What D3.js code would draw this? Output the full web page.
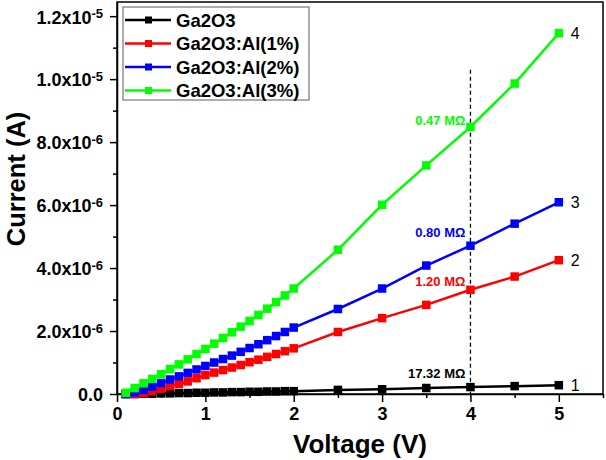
<!DOCTYPE html>
<meta charset="utf-8">
<head>
  <style>
    body { margin: 0; background: #fff; }
    svg { font-family: "Liberation Sans", Arial, sans-serif; }
    .axis path, .axis line { stroke: #000; stroke-width: 1.5; }
    .axis text { font-size: 18px; font-weight: bold; fill: #000; }
  </style>
</head>
<body>
  <script src="https://d3js.org/d3.v7.min.js"></script>
  <script>
    // voltage sweep (V)
    var voltage = [0.1, 0.2, 0.3, 0.4, 0.5, 0.6, 0.7, 0.8, 0.9, 1.0,
      1.1, 1.2, 1.3, 1.4, 1.5, 1.6, 1.7, 1.8, 1.9, 2.0,
      2.5, 3.0, 3.5, 4.0, 4.5, 5.0];

    // current in units of 1e-6 A
    var ga2o3 = [0.0, 0.0, 0.01, 0.01, 0.02, 0.02, 0.03, 0.03, 0.04, 0.04,
      0.05, 0.05, 0.06, 0.06, 0.07, 0.07, 0.08, 0.08, 0.09, 0.09,
      0.13, 0.15, 0.19, 0.22, 0.25, 0.28];
    var al1 = [0.0, 0.0, 0.03, 0.09, 0.17, 0.25, 0.32, 0.40, 0.50, 0.60,
      0.68, 0.76, 0.84, 0.92, 1.01, 1.09, 1.18, 1.27, 1.36, 1.45,
      1.97, 2.41, 2.83, 3.31, 3.73, 4.25];
    var al2 = [0.0, 0.05, 0.13, 0.23, 0.35, 0.46, 0.56, 0.67, 0.78, 0.89,
      1.00, 1.11, 1.22, 1.34, 1.46, 1.58, 1.71, 1.84, 1.97, 2.11,
      2.70, 3.35, 4.08, 4.71, 5.41, 6.09];
    var al3 = [0.04, 0.19, 0.34, 0.48, 0.63, 0.79, 0.94, 1.10, 1.27, 1.43,
      1.60, 1.78, 1.96, 2.14, 2.32, 2.51, 2.71, 2.92, 3.13, 3.35,
      4.58, 6.01, 7.26, 8.48, 9.86, 11.46];

    var seriesNames = ["Ga2O3", "Ga2O3:Al(1%)", "Ga2O3:Al(2%)", "Ga2O3:Al(3%)"];
    var seriesColors = ["#000000", "#ff0000", "#0000ff", "#00ff00"];
    var seriesValues = [ga2o3, al1, al2, al3];
    var curveLabels = ["1", "2", "3", "4"];

    var xTicks = [0, 1, 2, 3, 4, 5];
    var yTicks = [0, 2, 4, 6, 8, 10, 12];
    var yTickMant = ["0.0", "2.0x10", "4.0x10", "6.0x10", "8.0x10", "1.0x10", "1.2x10"];
    var yTickExp = ["", "-6", "-6", "-6", "-6", "-5", "-5"];

    // resistance notes at 4 V
    var resV = 4;
    var resText = ["17.32 M\u03A9", "1.20 M\u03A9", "0.80 M\u03A9", "0.47 M\u03A9"];

    var margin = { top: 2, right: 3, bottom: 66, left: 117 },
      width = 606 - margin.left - margin.right,
      height = 460 - margin.top - margin.bottom;

    var svg = d3.select("body").append("svg")
      .attr("width", 606)
      .attr("height", 460)
      .append("g")
      .attr("transform", "translate(" + margin.left + "," + margin.top + ")");

    var x = d3.scaleLinear().domain([0, 5.5]).range([0, width]);
    var y = d3.scaleLinear().domain([0, 12.45]).range([height, 0]);

    // minor ticks
    svg.append("g")
      .attr("class", "axis")
      .attr("transform", "translate(0," + height + ")")
      .call(d3.axisBottom(x).tickValues([0.5, 1.5, 2.5, 3.5, 4.5, 5.5]).tickSize(4).tickFormat(""))
      .select(".domain").remove();
    svg.append("g")
      .attr("class", "axis")
      .call(d3.axisLeft(y).tickValues([1, 3, 5, 7, 9, 11]).tickSize(4).tickFormat(""))
      .select(".domain").remove();

    // major ticks
    svg.append("g")
      .attr("class", "axis")
      .attr("transform", "translate(0," + height + ")")
      .call(d3.axisBottom(x).tickValues(xTicks).tickSize(8).tickSizeOuter(0).tickPadding(5).tickFormat(d3.format("d")));

    var yAxis = svg.append("g")
      .attr("class", "axis")
      .call(d3.axisLeft(y).tickValues(yTicks).tickSize(7).tickSizeOuter(0).tickPadding(6).tickFormat(""));

    yAxis.selectAll(".tick").each(function (d, i) {
      var t = d3.select(this).append("text")
        .attr("x", -14)
        .attr("dy", "0.38em")
        .attr("text-anchor", "end");
      t.append("tspan").text(yTickMant[i]);
      if (yTickExp[i]) {
        t.append("tspan").attr("dy", "-0.45em").style("font-size", "13px").text(yTickExp[i]);
      }
    });

    // frame
    svg.append("rect")
      .attr("width", width)
      .attr("height", height)
      .attr("fill", "none")
      .attr("stroke", "#000")
      .attr("stroke-width", 1.5);

    // axis titles
    svg.append("text")
      .attr("x", x(2.75))
      .attr("y", height + 59)
      .attr("text-anchor", "middle")
      .style("font-size", "26px")
      .style("font-weight", "bold")
      .text("Voltage (V)");

    svg.append("text")
      .attr("transform", "translate(" + (-92) + "," + 177 + ") rotate(-90)")
      .attr("text-anchor", "middle")
      .style("font-size", "25.5px")
      .style("font-weight", "bold")
      .text("Current (A)");

    // dashed guide at 4 V
    svg.append("line")
      .attr("x1", x(resV)).attr("x2", x(resV))
      .attr("y1", y(10.3)).attr("y2", height)
      .attr("stroke", "#000")
      .attr("stroke-width", 1.3)
      .attr("stroke-dasharray", "4,3");

    var line = d3.line()
      .x(function (d) { return x(d[0]); })
      .y(function (d) { return y(d[1]); });

    seriesValues.forEach(function (vals, s) {
      var pts = voltage.map(function (v, i) { return [v, vals[i]]; });
      svg.append("path")
        .datum(pts)
        .attr("fill", "none")
        .attr("stroke", seriesColors[s])
        .attr("stroke-width", 2.5)
        .attr("d", line);
      svg.selectAll(".m" + s)
        .data(pts)
        .enter().append("rect")
        .attr("class", "m" + s)
        .attr("x", function (d) { return x(d[0]) - 4.25; })
        .attr("y", function (d) { return y(d[1]) - 4.25; })
        .attr("width", 8.5)
        .attr("height", 8.5)
        .attr("fill", seriesColors[s]);

      // curve number at the right end
      svg.append("text")
        .attr("x", x(5) + 12)
        .attr("y", y(vals[vals.length - 1]))
        .attr("dy", "0.35em")
        .style("font-size", "16px")
        .text(curveLabels[s]);
    });

    // resistance labels (just above-left of each curve at 4 V)
    var resOffset = [14, 8, 13, 7];
    seriesValues.forEach(function (vals, s) {
      var i = voltage.indexOf(resV);
      svg.append("text")
        .attr("x", x(resV) - 5)
        .attr("y", y(vals[i]) - resOffset[s])
        .attr("dy", "0.35em")
        .attr("text-anchor", "end")
        .attr("fill", seriesColors[s])
        .style("font-size", "13px")
        .style("font-weight", "bold")
        .text(resText[s]);
    });

    // legend
    var legend = svg.append("g")
      .attr("transform", "translate(6,5)");
    legend.append("rect")
      .attr("width", 186)
      .attr("height", 93)
      .attr("fill", "#fff")
      .attr("stroke", "#777")
      .attr("stroke-width", 1.2);
    var item = legend.selectAll(".item")
      .data(seriesNames)
      .enter().append("g")
      .attr("class", "item")
      .attr("transform", function (d, i) { return "translate(0," + (13 + i * 23.5) + ")"; });
    item.append("line")
      .attr("x1", 2).attr("x2", 48)
      .attr("stroke", function (d, i) { return seriesColors[i]; })
      .attr("stroke-width", 2.5);
    item.append("rect")
      .attr("x", 22).attr("y", -3.5)
      .attr("width", 7).attr("height", 7)
      .attr("fill", function (d, i) { return seriesColors[i]; });
    item.append("text")
      .attr("x", 53)
      .attr("dy", "0.36em")
      .style("font-size", "18.5px")
      .style("font-weight", "bold")
      .text(function (d) { return d; });
  </script>
</body>
